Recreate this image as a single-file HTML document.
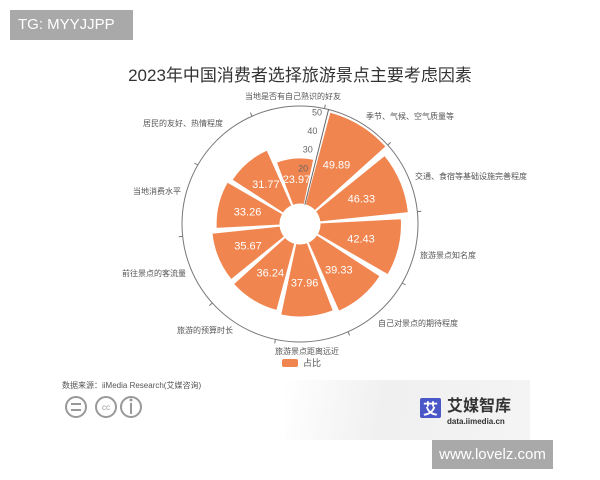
<!DOCTYPE html>
<html><head><meta charset="utf-8"><style>
body{margin:0;width:600px;height:480px;background:#fff;overflow:hidden;font-family:"Liberation Sans","Noto Sans CJK SC",sans-serif;position:relative}
.abs{position:absolute;white-space:nowrap}
</style></head><body>
<div class="abs" style="left:10px;top:10px;width:123px;height:30px;background:#a9a9a9;color:#fff;font-size:15px;line-height:30px;text-indent:8px">TG: MYYJJPP</div>
<div class="abs" style="left:0;width:600px;top:61px;text-align:center;font-size:17px;color:#333">2023年中国消费者选择旅游景点主要考虑因素</div>
<div class="abs" style="left:285px;top:380px;width:245px;height:60px;background:linear-gradient(100deg,#fff 0%,#f0f0f0 40%,#f4f4f4 100%)"></div>
<svg class="abs" style="left:0;top:0" width="600" height="480" id="s">
<circle cx="300" cy="224" r="118" fill="none" stroke="#777" stroke-width="1"/>
<g id="g"></g>
<g font-size="8" fill="#555">
<text x="293" y="99" text-anchor="middle">当地是否有自己熟识的好友</text>
<text x="410" y="119" text-anchor="middle">季节、气候、空气质量等</text>
<text x="415" y="179">交通、食宿等基础设施完善程度</text>
<text x="420" y="258">旅游景点知名度</text>
<text x="378" y="326">自己对景点的期待程度</text>
<text x="275" y="354">旅游景点距离远近</text>
<text x="177" y="333">旅游的预算时长</text>
<text x="122" y="276">前往景点的客流量</text>
<text x="133" y="194">当地消费水平</text>
<text x="143" y="126">居民的友好、热情程度</text>
<text x="303" y="366" font-size="9">占比</text>
<text x="62" y="388" font-size="8">数据来源：iiMedia Research(艾媒咨询)</text>
</g>
<rect x="282" y="359" width="16" height="8" rx="2" fill="#f0854f"/>
<g fill="none" stroke="#999" stroke-width="2">
<circle cx="76" cy="407" r="10"/><circle cx="106" cy="407" r="10"/><circle cx="131" cy="407" r="10"/>
</g>
<g stroke="#999" stroke-width="2"><line x1="71" y1="404" x2="81" y2="404"/><line x1="71" y1="410" x2="81" y2="410"/><line x1="131" y1="403" x2="131" y2="414"/></g>
<circle cx="131" cy="400" r="1.5" fill="#999"/>
<text x="106" y="410" font-size="8" fill="#999" text-anchor="middle">cc</text>
<rect x="420" y="398" width="21" height="20" rx="2" fill="#4a57c6"/>
<text x="430.5" y="414" font-size="15" fill="#fff" text-anchor="middle" font-weight="bold">艾</text>
<text x="447" y="411" font-size="16" fill="#333" font-weight="bold">艾媒智库</text>
<text x="447" y="424" font-size="8" fill="#333" font-weight="bold">data.iimedia.cn</text>
</svg>
<div class="abs" style="left:432px;top:440px;width:121px;height:29px;background:#a9a9a9;color:#fff;font-size:15px;line-height:29px;text-align:center">www.lovelz.com</div>
<script>
var v=[49.89,46.33,42.43,39.33,37.96,36.24,35.67,33.26,31.77,23.97];
var cx=300,cy=224,h='';
function P(r,a){a=a*Math.PI/180;return [cx+r*Math.sin(a),cy-r*Math.cos(a)];}
function R(x){return 20+1.92*x;}
for(var i=0;i<10;i++){var a0=15+36*i,a1=48+36*i,r0=20,r1=R(v[i]);
var p1=P(r0,a0),p2=P(r1,a0),p3=P(r1,a1),p4=P(r0,a1);
h+='<path d="M'+p1+'L'+p2+'A'+r1+','+r1+' 0 0 1 '+p3+'L'+p4+'A'+r0+','+r0+' 0 0 0 '+p1+'Z" fill="#f0854f" stroke="#fff" stroke-width="1"/>';
var m=P((r0+r1)/2+2,(a0+a1)/2);h+='<text x="'+m[0]+'" y="'+(m[1]+4)+'" font-size="11" fill="#fff" text-anchor="middle">'+v[i].toFixed(2)+'</text>';}
for(var i=0;i<10;i++){var a=36*i+12,p=P(118,a),q=P(122,a);h+='<line x1="'+p[0]+'" y1="'+p[1]+'" x2="'+q[0]+'" y2="'+q[1]+'" stroke="#777"/>';}
var a=P(20,14),b=P(118,14);h+='<line x1="'+a[0]+'" y1="'+a[1]+'" x2="'+b[0]+'" y2="'+b[1]+'" stroke="#666"/>';
[20,30,40,50].forEach(function(t){var p=P(R(t),14);h+='<text x="'+(p[0]-6)+'" y="'+(p[1]+4)+'" font-size="9" fill="#666" text-anchor="end">'+t+'</text>';});
document.getElementById('g').innerHTML=h;
</script>
</body></html>
